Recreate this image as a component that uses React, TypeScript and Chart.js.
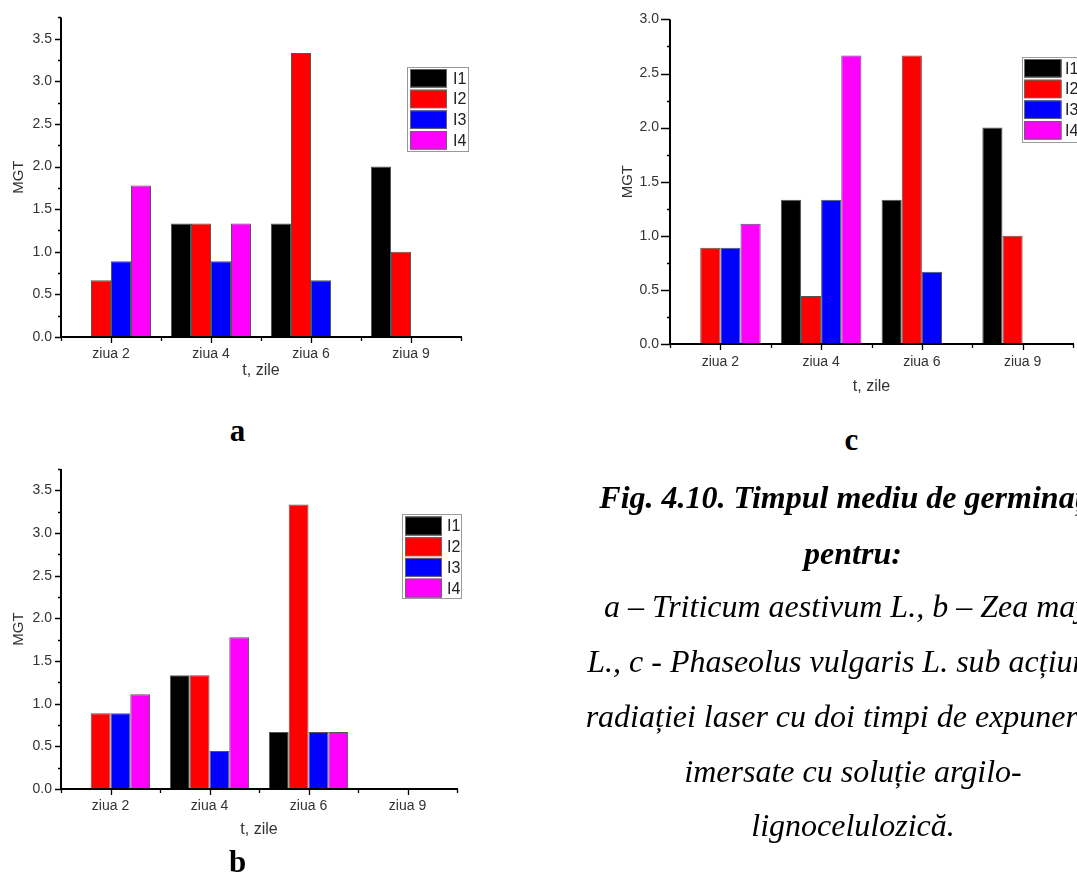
import React, { useEffect, useRef } from "react";
import { Chart, registerables } from "chart.js";

Chart.register(...registerables);

// ---------- data ----------
const categories = ["ziua 2", "ziua 4", "ziua 6", "ziua 9"];
const seriesNames = ["I1", "I2", "I3", "I4"];
const seriesColors = ["#000000", "#ff0000", "#0000ff", "#ff00ff"];

// panel a – Triticum aestivum L.
const aI1 = [0, 1.333, 1.333, 2.0];
const aI2 = [0.667, 1.333, 3.333, 1.0];
const aI3 = [0.889, 0.889, 0.667, 0];
const aI4 = [1.778, 1.333, 0, 0];

// panel b – Zea mays L.
const bI1 = [0, 1.333, 0.667, 0];
const bI2 = [0.889, 1.333, 3.333, 0];
const bI3 = [0.889, 0.444, 0.667, 0];
const bI4 = [1.111, 1.778, 0.667, 0];

// panel c – Phaseolus vulgaris L.
const cI1 = [0, 1.333, 1.333, 2.0];
const cI2 = [0.889, 0.444, 2.667, 1.0];
const cI3 = [0.889, 1.333, 0.667, 0];
const cI4 = [1.111, 2.667, 0, 0];

const yTicksAB = [0, 0.5, 1.0, 1.5, 2.0, 2.5, 3.0, 3.5];
const yTicksC = [0, 0.5, 1.0, 1.5, 2.0, 2.5, 3.0];

const xTitle = "t, zile";
const yTitle = "MGT";

const captionLines = [
  "Fig. 4.10. Timpul mediu de germinație",
  "pentru:",
  "a – Triticum aestivum L., b – Zea mays",
  "L., c - Phaseolus vulgaris L. sub acțiunea",
  "radiației laser cu doi timpi de expunere și",
  "imersate cu soluție argilo-",
  "lignocelulozică.",
];

// ---------- plugins ----------
const originAxesPlugin = {
  id: "originAxes",
  afterDatasetsDraw(chart: any, _args: any, opts: any) {
    const { ctx, chartArea } = chart;
    const ys = chart.scales.y;
    const xs = chart.scales.x;
    const { left, right, top, bottom } = chartArea;
    ctx.save();
    ctx.strokeStyle = "#000";
    ctx.lineWidth = 1.3;
    const majors: number[] = opts.majorY;
    const minors: number[] = [];
    for (let i = 0; i < majors.length - 1; i++) minors.push((majors[i] + majors[i + 1]) / 2);
    if (ys.max > majors[majors.length - 1]) minors.push(ys.max);
    ctx.beginPath();
    majors.forEach((v) => {
      const y = Math.round(ys.getPixelForValue(v)) + 0.5;
      ctx.moveTo(left - opts.yMajorLen, y);
      ctx.lineTo(left, y);
    });
    minors.forEach((v) => {
      const y = Math.round(ys.getPixelForValue(v)) + 0.5;
      ctx.moveTo(left - opts.yMinorLen, y);
      ctx.lineTo(left, y);
    });
    const n = chart.data.labels.length;
    for (let i = 0; i < n; i++) {
      const x = Math.round(xs.getPixelForValue(i)) + 0.5;
      ctx.moveTo(x, bottom);
      ctx.lineTo(x, bottom + opts.xMajorLen);
    }
    const step = (right - left) / n;
    for (let i = 0; i <= n; i++) {
      const x = Math.round(left + i * step) + 0.5;
      ctx.moveTo(x, bottom);
      ctx.lineTo(x, bottom + opts.xMinorLen);
    }
    ctx.stroke();
    ctx.lineWidth = 2;
    ctx.beginPath();
    ctx.moveTo(left, top);
    ctx.lineTo(left, bottom + 1);
    ctx.moveTo(left - 1, bottom);
    ctx.lineTo(right + 1, bottom);
    ctx.stroke();
    ctx.restore();
  },
};

const boxLegendPlugin = {
  id: "boxLegend",
  afterDraw(chart: any, _args: any, o: any) {
    const { ctx } = chart;
    ctx.save();
    ctx.fillStyle = "#fff";
    ctx.fillRect(o.x, o.y, o.w, o.h);
    ctx.strokeStyle = "#9a9a9a";
    ctx.lineWidth = 1;
    ctx.strokeRect(o.x + 0.5, o.y + 0.5, o.w, o.h);
    chart.data.datasets.forEach((ds: any, i: number) => {
      const ry = o.y + o.firstOff + i * o.rowH;
      ctx.fillStyle = ds.backgroundColor;
      ctx.fillRect(o.swatchX, ry, o.swatchW, o.swatchH);
      ctx.strokeStyle = "#666";
      ctx.strokeRect(o.swatchX + 0.5, ry + 0.5, o.swatchW - 1, o.swatchH - 1);
      ctx.fillStyle = "#222";
      ctx.font = "16px 'Liberation Sans', Arial, sans-serif";
      ctx.textBaseline = "middle";
      ctx.textAlign = "left";
      ctx.fillText(ds.label, o.textX, ry + o.swatchH / 2 + 1);
    });
    ctx.restore();
  },
};

type PanelCfg = {
  left: number;
  top: number;
  width: number;
  height: number;
  padTop: number;
  yAxisW: number;
  areaRight: number;
  areaBottom: number;
  yMax: number;
  yTicks: number[];
  series: number[][];
  xLabelPad: number;
  xTitlePadBottom: number;
  yLabelPad: number;
  yTitlePadTop: number;
  yMajorLen: number;
  legend: any;
};

const sansFont = "'Liberation Sans', Arial, Helvetica, sans-serif";

function Panel({ cfg }: { cfg: PanelCfg }) {
  const ref = useRef<HTMLCanvasElement | null>(null);
  useEffect(() => {
    if (!ref.current) return;
    const chart = new Chart(ref.current, {
      type: "bar",
      data: {
        labels: categories,
        datasets: cfg.series.map((vals, i) => ({
          label: seriesNames[i],
          data: vals,
          backgroundColor: seriesColors[i],
          borderColor: "#555",
          borderWidth: (c: any) => (c.raw === 0 ? 0 : 1),
          borderSkipped: "start",
          categoryPercentage: 0.8,
          barPercentage: 1.0,
        })),
      },
      options: {
        responsive: false,
        animation: false,
        devicePixelRatio: 1,
        layout: {
          padding: { top: cfg.padTop, right: cfg.width - cfg.areaRight, bottom: 0, left: 0 },
        },
        plugins: {
          legend: { display: false },
          tooltip: { enabled: false },
          originAxes: {
            majorY: cfg.yTicks,
            yMajorLen: cfg.yMajorLen,
            yMinorLen: 3,
            xMajorLen: 6,
            xMinorLen: 4,
          },
          boxLegend: cfg.legend,
        } as any,
        scales: {
          x: {
            type: "category",
            offset: true,
            grid: { display: false, drawTicks: false, offset: true },
            border: { display: false },
            ticks: {
              color: "#333",
              font: { family: sansFont, size: 14 },
              padding: cfg.xLabelPad,
              maxRotation: 0,
              autoSkip: false,
            },
            title: {
              display: true,
              text: xTitle,
              color: "#333",
              font: { family: sansFont, size: 16 },
              padding: { top: 0, bottom: cfg.xTitlePadBottom },
            },
            afterFit: (s: any) => {
              s.height = cfg.height - cfg.areaBottom;
            },
          },
          y: {
            type: "linear",
            min: 0,
            max: cfg.yMax,
            grid: { display: false, drawTicks: false },
            border: { display: false },
            afterBuildTicks: (s: any) => {
              s.ticks = cfg.yTicks.map((v) => ({ value: v }));
            },
            ticks: {
              color: "#333",
              font: { family: sansFont, size: 14 },
              padding: cfg.yLabelPad,
              callback: (v: any) => Number(v).toFixed(1),
            },
            title: {
              display: true,
              text: yTitle,
              color: "#333",
              font: { family: sansFont, size: 15 },
              padding: { top: cfg.yTitlePadTop, bottom: 0 },
            },
            afterFit: (s: any) => {
              s.width = cfg.yAxisW;
            },
          },
        },
      } as any,
      plugins: [originAxesPlugin, boxLegendPlugin],
    });
    return () => chart.destroy();
  }, [cfg]);
  return (
    <canvas
      ref={ref}
      width={cfg.width}
      height={cfg.height}
      style={{
        position: "absolute",
        left: cfg.left,
        top: cfg.top,
        width: cfg.width,
        height: cfg.height,
        display: "block",
      }}
    />
  );
}

const panelA: PanelCfg = {
  left: 0,
  top: 0,
  width: 480,
  height: 400,
  padTop: 14,
  yAxisW: 61,
  areaRight: 461,
  areaBottom: 337,
  yMax: 3.75,
  yTicks: yTicksAB,
  series: [aI1, aI2, aI3, aI4],
  xLabelPad: 8.6,
  xTitlePadBottom: 400 - 337 - 34 - 9.6,
  yLabelPad: 9,
  yTitlePadTop: 10,
  yMajorLen: 6,
  legend: { x: 407, y: 67, w: 61, h: 84, firstOff: 2, rowH: 20.7, swatchX: 410, swatchW: 37, swatchH: 18.5, textX: 453 },
};

const panelB: PanelCfg = {
  left: 0,
  top: 450,
  width: 480,
  height: 426,
  padTop: 19,
  yAxisW: 61,
  areaRight: 457,
  areaBottom: 339,
  yMax: 3.75,
  yTicks: yTicksAB,
  series: [bI1, bI2, bI3, bI4],
  xLabelPad: 8.3,
  xTitlePadBottom: 426 - 339 - 40.7 - 9.6,
  yLabelPad: 9,
  yTitlePadTop: 9.5,
  yMajorLen: 6,
  legend: { x: 402, y: 64, w: 59, h: 84, firstOff: 2.5, rowH: 20.7, swatchX: 405, swatchW: 37, swatchH: 19, textX: 447 },
};

const panelC: PanelCfg = {
  left: 600,
  top: 0,
  width: 520,
  height: 420,
  padTop: 18,
  yAxisW: 70,
  areaRight: 473,
  areaBottom: 344,
  yMax: 3.0,
  yTicks: yTicksC,
  series: [cI1, cI2, cI3, cI4],
  xLabelPad: 9.3,
  xTitlePadBottom: 420 - 344 - 42.7 - 9.6,
  yLabelPad: 11,
  yTitlePadTop: 18.5,
  yMajorLen: 9,
  legend: { x: 422, y: 57, w: 61, h: 85, firstOff: 2, rowH: 20.7, swatchX: 424, swatchW: 37.5, swatchH: 18.5, textX: 465 },
};

const serif = "'Liberation Serif', 'Times New Roman', Times, serif";
const capFont = 32;
const capAsc = 0.891;
const capContent = 1.107;
function baselineTop(baseline: number, size: number) {
  return baseline - ((size - capContent * size) / 2 + capAsc * size);
}

const captionCenter = 853;
const captionPos = [
  { baseline: 508, bold: true },
  { baseline: 564, bold: true },
  { baseline: 617, bold: false },
  { baseline: 672, bold: false },
  { baseline: 727, bold: false },
  { baseline: 782, bold: false },
  { baseline: 836, bold: false },
];

const letterSize = 31;
const panelLetters = [
  { text: "a", cx: 237.5, baseline: 440.5 },
  { text: "b", cx: 237.5, baseline: 871.5 },
  { text: "c", cx: 851.5, baseline: 450 },
];

export default function App() {
  return (
    <div
      style={{
        position: "fixed",
        left: 0,
        top: 0,
        width: 1077,
        height: 876,
        overflow: "hidden",
        background: "#fff",
      }}
    >
      <Panel cfg={panelA} />
      <Panel cfg={panelB} />
      <Panel cfg={panelC} />
      {panelLetters.map((l) => (
        <div
          key={l.text}
          style={{
            position: "absolute",
            left: l.cx - 50,
            width: 100,
            textAlign: "center",
            top: baselineTop(l.baseline, letterSize),
            fontFamily: serif,
            fontWeight: "bold",
            fontSize: letterSize,
            lineHeight: letterSize + "px",
            color: "#000",
          }}
        >
          {l.text}
        </div>
      ))}
      {captionLines.map((t, i) => (
        <div
          key={i}
          style={{
            position: "absolute",
            left: captionCenter - 400,
            width: 800,
            textAlign: "center",
            top: baselineTop(captionPos[i].baseline, capFont),
            whiteSpace: "nowrap",
            fontFamily: serif,
            fontStyle: "italic",
            fontWeight: captionPos[i].bold ? "bold" : "normal",
            fontSize: capFont,
            lineHeight: capFont + "px",
            color: "#000",
          }}
        >
          {t}
        </div>
      ))}
    </div>
  );
}
